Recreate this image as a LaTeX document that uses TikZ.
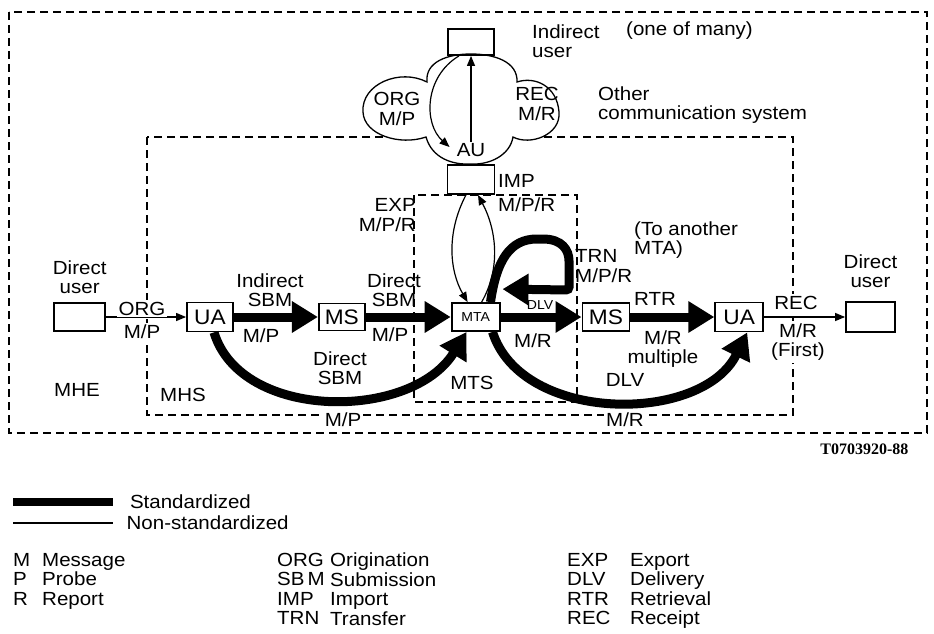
\documentclass[tikz,border=0pt]{standalone}
\usepackage{fontspec}
\setmainfont{Liberation Sans}[FakeStretch=1.08]
\newfontfamily\codefont{Liberation Serif}
\usetikzlibrary{arrows.meta, positioning, calc}
\newcommand{\lblfont}{\fontsize{19}{19.5}\selectfont}
\newcommand{\unitfont}{\fontsize{21}{21}\selectfont}
\newcommand{\mtafont}{\fontsize{13}{13}\selectfont}

\begin{document}
\begin{tikzpicture}[
    x=1pt, y=-1pt,
    font=\lblfont,
    unitbox/.style={draw, line width=1.8pt, minimum width=46pt, minimum height=29pt,
        inner sep=0pt, font=\unitfont},
    std/.style={-{Triangle[length=26pt, width=30pt]}, line width=9pt},
    nonstd/.style={-{Triangle[length=10pt, width=8pt]}, line width=1.2pt},
    zone/.style={line width=1.7pt, dash pattern=on 8pt off 5pt},
    lbl/.style={align=center, inner sep=1pt},
    gapfill/.style={fill=white, inner sep=2pt},
]
\useasboundingbox (0,0) rectangle (934,634);

% dominios MHE / MHS / MTS
\draw[zone] (9,12) rectangle (927,433);
\draw[zone] (147,137) rectangle (793,415);
\draw[zone] (414,195) rectangle (577,402);

% nube: otro sistema de comunicacion
\draw[line width=1.3pt, fill=white] (427,82) .. controls (400,68) and (361,84) .. (363,112)
    .. controls (364,135) and (400,146) .. (426,137)
    .. controls (432,158) and (452,165) .. (471,164)
    .. controls (490,165) and (510,155) .. (513,137)
    .. controls (530,146) and (561,135) .. (559,112)
    .. controls (557,86) and (535,76) .. (517,82)
    .. controls (518,62) and (495,54) .. (471,54)
    .. controls (447,54) and (425,62) .. (427,82) -- cycle;

% ================= unidades =================
\node[unitbox] (ua1) at (210,317) {UA};
\node[unitbox, minimum width=51pt, minimum height=28pt, left=80pt of ua1] (usrL) {};
\node[unitbox, minimum height=27pt, right=84pt of ua1] (ms1) {MS};
\node[unitbox, minimum width=48pt, minimum height=28pt, right=85pt of ms1, font=\mtafont] (mta) {MTA};
\node[unitbox, minimum width=47pt, minimum height=28pt, right=81pt of mta] (ms2) {MS};
\node[unitbox, minimum width=48pt, right=84pt of ms2] (ua2) {UA};
\node[unitbox, minimum width=49pt, minimum height=30pt, right=81pt of ua2] (usrR) {};
\node[unitbox, minimum height=26pt] (usrI) at (471,42) {};
\node[unitbox, minimum width=47pt] (au) at (471,179.5) {};
\node[lbl] (aulbl) at (471,150) {AU};

% ================= flujos =================
\draw[nonstd] (usrL) -- (ua1);
\draw[std] (ua1) -- (ms1);
\draw[std] (ms1) -- (mta);
\draw[std] (mta) -- (ms2);
\draw[std] (ms2) -- (ua2);
\draw[nonstd] (ua2) -- (usrR);
\draw[std] ($(ua1.south)+(4,0)$) .. controls +(27,89) and +(-55,89) .. ($(mta.south)+(-9,0)$);
\draw[std] ($(mta.south east)+(-8,0)$) .. controls +(29,92) and +(-45,92) .. ($(ua2.south)+(8,0)$);

% lazo TRN hacia otro MTA
\coordinate (trnend) at ($(mta.north east)+(2,-13)$);
\draw[std, rounded corners=3pt] ($(mta.north east)+(-10,0)$) .. controls +(6,-42) and +(-30,0) .. (540,239)
    .. controls +(22,0) and +(0,-14) .. (569,264) -- (569,290) -- (trnend);

% EXP / IMP
\draw[nonstd] ($(au.south)+(-5,0)$) .. controls +(-20,38) and +(-18,-31) .. ($(mta.north)+(-8,0)$);
\draw[nonstd] ($(mta.north)+(6,0)$) .. controls +(19,-33) and +(19,36) .. ($(au.south)+(7,0)$);

% usuario indirecto
\draw[nonstd] ($(usrI.south)+(-12,0)$) .. controls +(-35,21) and +(-26,-23) .. ($(aulbl.west)+(-6,-3)$);
\draw[nonstd] (aulbl) -- (usrI);

% ================= etiquetas =================
\node[lbl, anchor=west, align=left] at (531,41) {Indirect\\user};
\node[lbl, anchor=west] at (625,31) {(one of many)};
\node[lbl] at (397,109) {ORG\\M/P};
\node[lbl] at (537,104) {REC\\M/R};
\node[lbl, anchor=west, align=left] at (597,105) {Other\\communication system};
\node[lbl, anchor=west, align=left] at (497,193) {IMP\\[4pt]M/P/R};
\node[lbl, anchor=east, align=right] at (417,215) {EXP\\M/P/R};
\node[lbl, anchor=west, align=left] at (633,240) {(To another\\MTA)};
\node[lbl, anchor=west, align=left] at (574,266) {TRN\\M/P/R};
\node[lbl, above=12pt of usrR] {Direct\\user};
\node[lbl, above=7pt of usrL] {Direct\\user};
\node[lbl, gapfill] at (142,308.5) {ORG};
\node[lbl, gapfill] at (142,331.5) {M/P};
\node[lbl] at (270,290) {Indirect\\SBM};
\node[lbl] at (261,336) {M/P};
\node[lbl] at (394,290) {Direct\\SBM};
\node[lbl] at (390,335) {M/P};
\node[lbl] at (340,368) {Direct\\SBM};
\node[lbl] at (77,390) {MHE};
\node[lbl] at (183,395) {MHS};
\node[lbl, gapfill] at (343,420) {M/P};
\node[lbl] at (472,383) {MTS};
\node[lbl, gapfill] at (625,420) {M/R};
\node[lbl, font=\fontsize{13}{13}\selectfont] at (540,305) {DLV};
\node[lbl] at (533,341) {M/R};
\node[lbl] at (655,299) {RTR};
\node[lbl] at (663,349) {M/R\\multiple};
\node[lbl] at (625,380) {DLV};
\node[lbl, gapfill] at (796,303) {REC};
\node[lbl, gapfill] at (798,342) {M/R\\(First)};
\node[font=\codefont\bfseries\fontsize{16}{16}\selectfont, anchor=east] at (912,449) {T0703920-88};

% ================= leyenda =================
\draw[line width=8pt] (13,502) -- (113,502) node[lbl, anchor=west, xshift=12pt] {Standardized};
\draw[line width=1.3pt] (13,523) -- (113,523) node[lbl, anchor=west, xshift=12pt] {Non-standardized};
\node[lbl, anchor=north west, align=left, inner sep=0pt] at (13,553) {M\\P\\R};
\node[lbl, anchor=north west, align=left, inner sep=0pt] at (42,553) {Message\\Probe\\Report};
\node[lbl, anchor=north west, align=left, inner sep=0pt] at (277,553) {ORG\\SB\,M\\IMP\\TRN};
\node[lbl, anchor=north west, align=left, inner sep=0pt] at (330,553) {Origination\\Submission\\Import\\Transfer};
\node[lbl, anchor=north west, align=left, inner sep=0pt] at (567,553) {EXP\\DLV\\RTR\\REC};
\node[lbl, anchor=north west, align=left, inner sep=0pt] at (630,553) {Export\\Delivery\\Retrieval\\Receipt};

\end{tikzpicture}
\end{document}
